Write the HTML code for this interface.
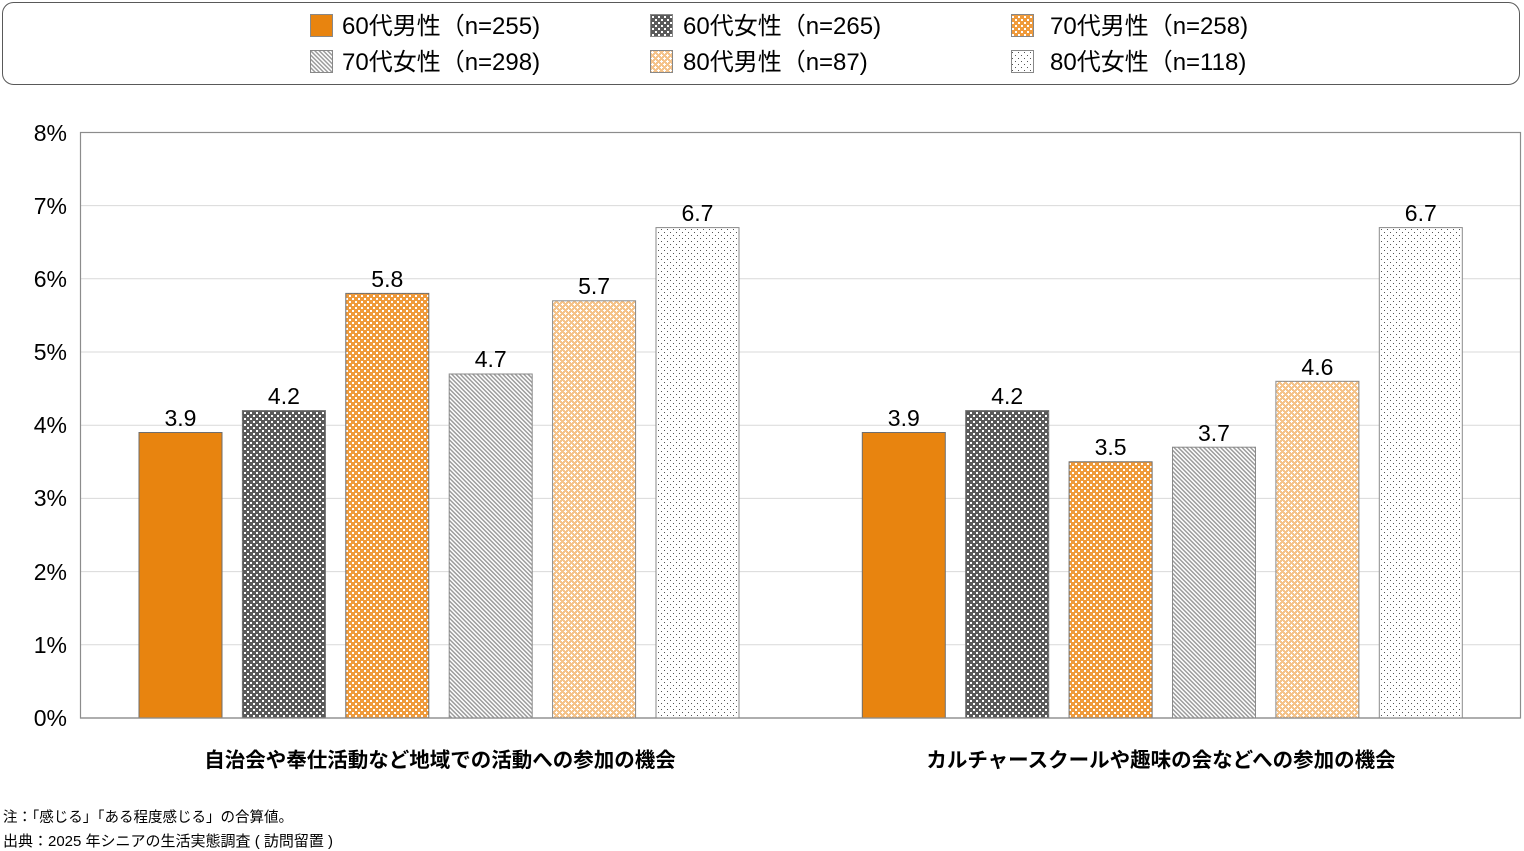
<!DOCTYPE html>
<html>
<head>
<meta charset="utf-8">
<style>
html,body{margin:0;padding:0;background:#fff;}
svg{display:block;font-family:"Liberation Sans","Noto Sans CJK JP",sans-serif;}
</style>
</head>
<body>
<svg width="1524" height="851" viewBox="0 0 1524 851" xmlns="http://www.w3.org/2000/svg">
<defs>
  <pattern id="p2" patternUnits="userSpaceOnUse" width="6" height="6">
    <rect width="6" height="6" fill="#5a5a5a"/>
    <rect x="1" y="1" width="2" height="2" fill="#ffffff"/>
    <rect x="4" y="4" width="2" height="2" fill="#ffffff"/>
  </pattern>
  <pattern id="p3" patternUnits="userSpaceOnUse" width="6" height="6">
    <rect width="6" height="6" fill="#ef9a3b"/>
    <rect x="1" y="1" width="2" height="2" fill="#ffffff"/>
    <rect x="4" y="4" width="2" height="2" fill="#ffffff"/>
  </pattern>
  <pattern id="p4" patternUnits="userSpaceOnUse" width="3" height="3" patternTransform="rotate(-45)">
    <rect width="3" height="3" fill="#ffffff"/>
    <rect x="0" y="0" width="1.5" height="3" fill="#9c9c9c"/>
  </pattern>
  <pattern id="p5" patternUnits="userSpaceOnUse" width="6" height="6">
    <rect width="6" height="6" fill="#f5c38a"/>
    <rect x="1" y="0" width="1" height="3" fill="#ffffff"/>
    <rect x="0" y="1" width="3" height="1" fill="#ffffff"/>
    <rect x="4" y="3" width="1" height="3" fill="#ffffff"/>
    <rect x="3" y="4" width="3" height="1" fill="#ffffff"/>
  </pattern>
  <pattern id="p6" patternUnits="userSpaceOnUse" width="6" height="6">
    <rect width="6" height="6" fill="#ffffff"/>
    <rect x="1" y="1" width="1" height="1" fill="#555555"/>
    <rect x="4" y="4" width="1" height="1" fill="#555555"/>
  </pattern>
</defs>

<!-- Legend -->
<rect x="2.5" y="2.5" width="1517" height="82" rx="11" ry="11" fill="#fff" stroke="#595959" stroke-width="1"/>
<g font-size="24" fill="#000">
  <rect x="310.5" y="14.5" width="22" height="22" fill="#e8840f" stroke="#888"/>
  <text x="342" y="34">60代男性（n=255)</text>
  <rect x="650.5" y="14.5" width="22" height="22" fill="url(#p2)" stroke="#888"/>
  <text x="683" y="34">60代女性（n=265)</text>
  <rect x="1011.5" y="14.5" width="22" height="22" fill="url(#p3)" stroke="#888"/>
  <text x="1050" y="34">70代男性（n=258)</text>
  <rect x="310.5" y="50.5" width="22" height="22" fill="url(#p4)" stroke="#888"/>
  <text x="342" y="70">70代女性（n=298)</text>
  <rect x="650.5" y="50.5" width="22" height="22" fill="url(#p5)" stroke="#888"/>
  <text x="683" y="70">80代男性（n=87)</text>
  <rect x="1011.5" y="50.5" width="22" height="22" fill="url(#p6)" stroke="#888"/>
  <text x="1050" y="70">80代女性（n=118)</text>
</g>

<!-- Gridlines -->
<g stroke="#d9d9d9" stroke-width="1">
  <line x1="80" y1="644.8" x2="1520" y2="644.8"/>
  <line x1="80" y1="571.6" x2="1520" y2="571.6"/>
  <line x1="80" y1="498.4" x2="1520" y2="498.4"/>
  <line x1="80" y1="425.2" x2="1520" y2="425.2"/>
  <line x1="80" y1="352" x2="1520" y2="352"/>
  <line x1="80" y1="278.8" x2="1520" y2="278.8"/>
  <line x1="80" y1="205.6" x2="1520" y2="205.6"/>
</g>
<rect x="80.5" y="132.5" width="1440" height="585.5" fill="none" stroke="#8c8c8c" stroke-width="1.2"/>

<!-- Y labels -->
<g font-size="23" fill="#000" text-anchor="end">
  <text x="67" y="726">0%</text>
  <text x="67" y="653">1%</text>
  <text x="67" y="580">2%</text>
  <text x="67" y="506">3%</text>
  <text x="67" y="433">4%</text>
  <text x="67" y="360">5%</text>
  <text x="67" y="287">6%</text>
  <text x="67" y="214">7%</text>
  <text x="67" y="141">8%</text>
</g>

<!-- Bars group 1 -->
<g stroke="#6e6e6e" stroke-width="1">
  <rect x="139" y="432.5" width="83" height="285.5" fill="#e8840f"/>
  <rect x="242.4" y="410.6" width="83" height="307.4" fill="url(#p2)"/>
  <rect x="345.8" y="293.4" width="83" height="424.6" fill="url(#p3)"/>
  <rect x="449.2" y="374" width="83" height="344" fill="url(#p4)" stroke="#8a8a8a"/>
  <rect x="552.6" y="300.8" width="83" height="417.2" fill="url(#p5)" stroke="#8a8a8a"/>
  <rect x="656" y="227.6" width="83" height="490.4" fill="url(#p6)" stroke="#8a8a8a"/>
  <!-- group 2 -->
  <rect x="862.3" y="432.5" width="83" height="285.5" fill="#e8840f"/>
  <rect x="965.7" y="410.6" width="83" height="307.4" fill="url(#p2)"/>
  <rect x="1069.1" y="461.8" width="83" height="256.2" fill="url(#p3)"/>
  <rect x="1172.5" y="447.2" width="83" height="270.8" fill="url(#p4)" stroke="#8a8a8a"/>
  <rect x="1275.9" y="381.3" width="83" height="336.7" fill="url(#p5)" stroke="#8a8a8a"/>
  <rect x="1379.3" y="227.6" width="83" height="490.4" fill="url(#p6)" stroke="#8a8a8a"/>
</g>
<line x1="80" y1="718" x2="1520" y2="718" stroke="#8c8c8c" stroke-width="1.2"/>

<!-- Value labels -->
<g font-size="23" fill="#000" text-anchor="middle">
  <text x="180.5" y="426">3.9</text>
  <text x="283.9" y="404">4.2</text>
  <text x="387.3" y="287">5.8</text>
  <text x="490.7" y="367">4.7</text>
  <text x="594.1" y="294">5.7</text>
  <text x="697.5" y="221">6.7</text>
  <text x="903.8" y="426">3.9</text>
  <text x="1007.2" y="404">4.2</text>
  <text x="1110.6" y="455">3.5</text>
  <text x="1214" y="441">3.7</text>
  <text x="1317.4" y="375">4.6</text>
  <text x="1420.8" y="221">6.7</text>
</g>

<!-- Category labels -->
<g font-size="20.5" font-weight="bold" fill="#000" text-anchor="middle">
  <text x="440" y="767">自治会や奉仕活動など地域での活動への参加の機会</text>
  <text x="1161" y="767">カルチャースクールや趣味の会などへの参加の機会</text>
</g>

<!-- Notes -->
<g fill="#000">
  <text x="3" y="822" font-size="14.5">注：「感じる」「ある程度感じる」の合算値。</text>
  <text x="3" y="846" font-size="15">出典：2025 年シニアの生活実態調査 ( 訪問留置 )</text>
</g>
</svg>
</body>
</html>
